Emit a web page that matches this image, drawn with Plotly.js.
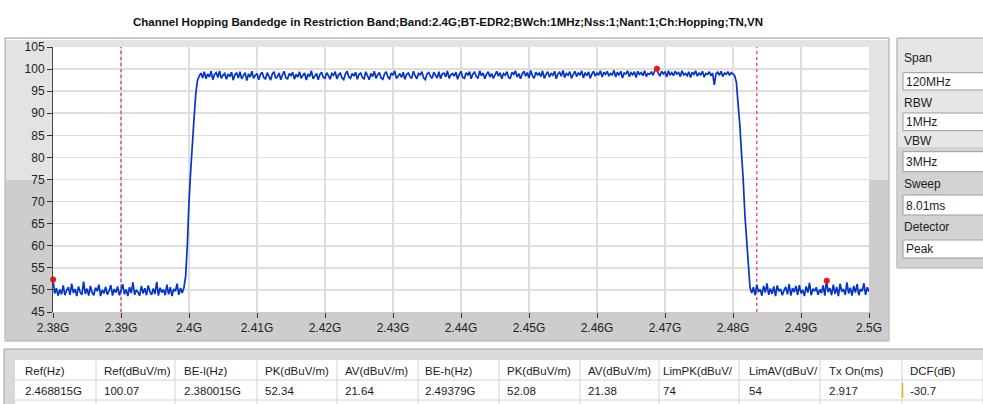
<!DOCTYPE html>
<html><head><meta charset="utf-8">
<script src="https://cdn.plot.ly/plotly-3.0.1.min.js"></script>
<style>html,body{margin:0;padding:0;background:#fff;overflow:hidden}#chart{width:983px;height:404px}</style>
</head><body><div id="chart"></div>
<script>
// ---------------- DATA ----------------
const chartTitle = "Channel Hopping Bandedge in Restriction Band;Band:2.4G;BT-EDR2;BWch:1MHz;Nss:1;Nant:1;Ch:Hopping;TN,VN";
const sweepStartGHz = 2.38;
const sweepStepGHz = 0.00025;
const traceLevels = [
 // lower floor 2.380 .. 2.399
 52.3, 49.2, 50.4, 48.7, 50.1, 49.0, 51.0, 48.8, 49.9, 50.6, 48.9, 51.4, 49.3, 50.2, 48.6, 50.8, 49.5, 48.9, 51.9, 49.1,
 50.3, 48.7, 50.9, 49.4, 48.8, 50.5, 49.7, 51.2, 48.6, 50.0, 49.2, 50.7, 48.9, 49.8, 51.1, 48.7, 50.2, 49.4, 50.8, 48.8,
 49.9, 51.3, 49.0, 50.1, 48.6, 50.6, 49.3, 51.7, 48.9, 50.0, 49.5, 48.7, 50.9, 49.2, 50.4, 48.8, 51.0, 49.6, 48.9, 50.3,
 49.1, 51.8, 48.7, 50.5, 49.4, 50.1, 48.8, 51.2, 49.0, 50.6, 48.6, 50.2, 49.7, 51.4, 48.9, 50.4, 49.3,
 // rising edge
 50.5, 53, 60, 70, 77, 83, 89, 94.5, 97.5,
 // in-band plateau
 98.4, 99.1, 98.0, 99.4, 97.8, 98.9, 98.2, 99.5, 97.6, 98.8, 99.2, 98.1, 99.6, 97.9, 98.6, 99.0, 97.7, 98.9, 98.3, 99.3,
 97.5, 98.7, 99.1, 98.0, 99.4, 97.8, 98.5, 99.2, 97.4, 98.9, 98.2, 99.5, 97.9, 98.6, 99.0, 97.6, 98.8, 99.3, 98.1, 97.7,
 99.2, 98.4, 97.5, 98.9, 99.4, 97.9, 98.3, 99.1, 97.6, 98.7, 99.5, 98.0, 97.8, 99.0, 98.5, 99.3, 97.7, 98.8, 98.2, 99.4,
 97.9, 98.6, 99.1, 97.5, 98.9, 98.3, 99.6, 97.8, 98.4, 99.0, 97.6, 98.8, 99.3, 98.1, 97.9, 99.2, 98.5, 97.7, 99.0, 98.6,
 99.4, 97.8, 98.7, 99.1, 98.0, 97.6, 98.9, 99.5, 98.2, 97.9, 99.0, 98.4, 99.3, 97.7, 98.8, 99.1, 98.1, 97.8, 99.4, 98.5,
 97.6, 99.0, 98.3, 99.5, 97.9, 98.7, 99.2, 98.0, 97.7, 98.9, 99.4, 98.2, 97.8, 99.1, 98.6, 99.6, 97.9, 98.4, 99.0, 98.1,
 99.3, 97.7, 98.8, 99.1, 98.3, 97.9, 99.5, 98.5, 97.8, 99.0, 98.7, 99.4, 98.0, 97.6, 98.9, 99.2, 98.4, 97.9, 99.3, 98.6,
 98.0, 99.4, 97.8, 98.9, 99.1, 98.2, 99.6, 97.9, 98.7, 99.0, 98.4, 99.3, 97.7, 98.8, 99.5, 98.1, 97.9, 99.2, 98.6, 99.4,
 97.8, 98.9, 99.3, 98.3, 97.9, 99.6, 98.5, 99.1, 97.8, 98.8, 99.4, 98.2, 99.0, 97.9, 98.7, 99.5, 98.4, 99.2, 97.8, 99.0,
 98.6, 99.4, 98.1, 97.9, 99.3, 98.8, 99.6, 98.2, 99.0, 97.8, 98.9, 99.5, 98.4, 99.2, 98.0, 99.7, 98.5, 97.9, 99.3, 98.7,
 99.1, 98.3, 99.6, 97.9, 98.8, 99.4, 98.2, 99.0, 98.6, 99.5, 97.8, 98.9, 99.3, 98.4, 99.7, 98.1, 99.0, 98.6, 99.4, 97.9,
 98.8, 99.5, 98.3, 99.1, 98.7, 99.6, 98.0, 99.2, 98.5, 99.4, 97.9, 98.9, 99.5, 98.4, 99.1, 98.7, 99.6, 98.2, 99.3, 98.8,
 99.5, 98.4, 99.0, 98.7, 99.7, 98.2, 99.3, 98.6, 99.5, 98.0, 99.1, 98.9, 99.6, 98.3, 99.2, 98.7, 99.4, 98.1, 99.5, 98.8,
 99.2, 98.5, 99.6, 98.3, 99.0, 98.8, 99.4, 98.6, 99.7, 100.0, 99.1, 98.4, 99.5, 98.9, 99.3, 98.2, 99.6, 98.7, 99.2, 98.5,
 99.5, 98.9, 99.2, 98.3, 99.6, 98.7, 99.0, 98.5, 99.4, 98.1, 99.3, 98.8, 99.6, 98.4, 99.1, 98.7, 99.5, 98.2, 99.0, 98.8,
 99.4, 98.5, 99.1, 96.4, 98.9, 99.3, 98.6, 99.5, 98.3, 99.1, 98.8, 99.4, 98.6, 99.2, 98.9, 98.5,
 // falling edge
 97, 92, 87.5, 81, 75, 67, 61.5, 56, 50.5,
 // upper floor 2.4828 .. 2.5
 49.3, 50.6, 48.8, 51.2, 49.6, 50.1, 48.7, 50.9, 49.4, 51.5, 48.9, 50.3, 49.1, 50.8, 48.6, 51.0, 49.7, 50.2, 48.8, 49.9,
 50.7, 49.0, 51.3, 48.7, 50.4, 49.5, 50.9, 48.9, 51.1, 49.2, 50.0, 48.6, 50.8, 49.4, 51.6, 48.8, 50.3, 49.7, 50.6, 48.9,
 50.1, 49.3, 51.0, 48.7, 52.0, 49.5, 50.4, 48.8, 51.2, 49.1, 50.7, 48.6, 51.4, 49.6, 50.2, 48.9, 51.7, 49.2, 50.5, 48.7,
 50.9, 49.4, 51.3, 48.8, 50.2, 49.7, 51.5, 48.9, 50.6, 49.6
];
const markerFreqGHz = [2.380015, 2.468815, 2.49379];
const markerLevels = [52.34, 100.07, 52.08];
const limitFreqGHz = [2.39, 2.4835];
const yRange = [45, 105];
const xRange = [2.38, 2.5];
const xTickVals = [2.38, 2.39, 2.40, 2.41, 2.42, 2.43, 2.44, 2.45, 2.46, 2.47, 2.48, 2.49, 2.50];
const xTickText = ["2.38G", "2.39G", "2.4G", "2.41G", "2.42G", "2.43G", "2.44G", "2.45G", "2.46G", "2.47G", "2.48G", "2.49G", "2.5G"];
const yTickVals = [45, 50, 55, 60, 65, 70, 75, 80, 85, 90, 95, 100, 105];
const settingLabels = ["Span", "RBW", "VBW", "Sweep", "Detector"];
const settingValues = ["120MHz", "1MHz", "3MHz", "8.01ms", "Peak"];
const tableHeaders = ["Ref(Hz)", "Ref(dBuV/m)", "BE-l(Hz)", "PK(dBuV/m)", "AV(dBuV/m)", "BE-h(Hz)", "PK(dBuV/m)", "AV(dBuV/m)", "LimPK(dBuV/", "LimAV(dBuV/", "Tx On(ms)", "DCF(dB)"];
const tableValues = ["2.468815G", "100.07", "2.380015G", "52.34", "21.64", "2.49379G", "52.08", "21.38", "74", "54", "2.917", "-30.7"];

// ---------------- LAYOUT HELPERS ----------------
const W = 983, H = 404;
const L = 53, R = 869, T = 47, B = 312;
const px = x => (x - L) / (R - L);
const py = y => (B - y) / (B - T);

const traceFreq = traceLevels.map((_, i) => sweepStartGHz + i * sweepStepGHz);

const traces = [];
limitFreqGHz.forEach(f => traces.push({
  x: [f, f], y: yRange, mode: 'lines', hoverinfo: 'skip',
  line: {color: '#e3288a', width: 1.2, dash: '3px,3px'}
}));
traces.push({
  x: traceFreq, y: traceLevels, mode: 'lines',
  line: {color: '#0534c8', width: 1.7, simplify: false}
});
traces.push({
  x: markerFreqGHz, y: markerLevels, mode: 'markers', cliponaxis: false,
  marker: {color: '#ff1010', size: 6}
});

const shapes = [];
const rect = (x0, y0, x1, y1, fill, line, lw) => shapes.push({
  type: 'rect', xref: 'paper', yref: 'paper', layer: 'below',
  x0: px(x0), x1: px(x1), y0: py(y1), y1: py(y0),
  fillcolor: fill, line: {color: line || fill, width: lw === undefined ? 1 : lw}
});
const hline = (x0, x1, y, c, w) => shapes.push({type: 'line', xref: 'paper', yref: 'paper', layer: 'below',
  x0: px(x0), x1: px(x1), y0: py(y), y1: py(y), line: {color: c, width: w || 1}});
const vline = (x, y0, y1, c, w) => shapes.push({type: 'line', xref: 'paper', yref: 'paper', layer: 'below',
  x0: px(x), x1: px(x), y0: py(y0), y1: py(y1), line: {color: c, width: w || 1}});

// graph panel
rect(5, 38, 889, 341, '#e3e3e3', '#a3a3a3', 1);
rect(6, 180, 888, 340, '#cdcdcd', '#cdcdcd', 0);
hline(6, 888, 39.5, '#ffffff', 1);
rect(L, T, R, B, '#ffffff', '#ffffff', 0);

// right settings panel
rect(897, 38, 992, 268, '#e6e6e6', '#a3a3a3', 1);
rect(898, 147, 991, 267, '#d3d3d3', '#d3d3d3', 0);
const boxY = [[72.7, 90], [113, 130.7], [151.7, 171.7], [195, 215], [240, 258]];
const labelY = [58.3, 103.3, 141, 184, 226.7];
boxY.forEach(b => rect(903, b[0], 995, b[1], '#ffffff', '#9c9c9c', 1));

// table panel
rect(4, 349, 995, 412, '#d9d9d9', '#a3a3a3', 1);
rect(15, 360, 995, 412, '#ffffff', '#ffffff', 0);
const colX = [15, 96, 175, 257, 337, 418, 499, 580, 659, 739, 820, 902, 983];
hline(15, 983, 380, '#d4d4d4', 1);
hline(15, 983, 400, '#d4d4d4', 1);
colX.slice(1).forEach(x => vline(x, 360, 404, '#d4d4d4', 1));
vline(902.5, 383, 398, '#f0b400', 1.5);

const annotations = [];
const txt = (x, y, s, size) => annotations.push({
  xref: 'paper', yref: 'paper', x: px(x), y: py(y), xanchor: 'left', yanchor: 'middle',
  text: s, showarrow: false, font: {family: 'Liberation Sans, Arial, sans-serif', size: size, color: '#1c1c1c'}
});
settingLabels.forEach((s, i) => txt(902, labelY[i], s, 12));
settingValues.forEach((s, i) => txt(904, (boxY[i][0] + boxY[i][1]) / 2 + 0.5, s, 12));
const colTextX = [23, 101.5, 181.5, 263, 343, 423, 505, 586, 660.5, 746.5, 826.5, 907.5];
tableHeaders.forEach((s, i) => txt(colTextX[i], 371, s, 11.5));
tableValues.forEach((s, i) => txt(colTextX[i], 390.5, s, 11.5));

const layout = {
  width: W, height: H,
  margin: {l: L, r: W - R, t: T, b: H - B, pad: 0},
  paper_bgcolor: '#ffffff', plot_bgcolor: 'rgba(0,0,0,0)',
  showlegend: false,
  title: {
    text: '<b>' + chartTitle + '</b>', xref: 'container', yref: 'container',
    x: 448 / W, xanchor: 'center', y: 1 - 22 / H, yanchor: 'middle',
    font: {family: 'Liberation Sans, Arial, sans-serif', size: 11.5, color: '#111'}
  },
  xaxis: {
    range: xRange, tickvals: xTickVals, ticktext: xTickText,
    showgrid: true, gridcolor: '#dedede', gridwidth: 1.6, zeroline: false, showline: false,
    ticks: 'outside', ticklen: 5, tickwidth: 1, tickcolor: '#333',
    tickfont: {family: 'Liberation Sans, Arial, sans-serif', size: 12, color: '#222'}
  },
  yaxis: {
    range: yRange, tickvals: yTickVals,
    showgrid: true, gridcolor: '#dedede', gridwidth: 1.6, zeroline: false,
    showline: true, linecolor: '#444', linewidth: 1,
    ticks: 'outside', ticklen: 5, tickwidth: 1, tickcolor: '#333',
    tickfont: {family: 'Liberation Sans, Arial, sans-serif', size: 12, color: '#222'}
  },
  shapes: shapes, annotations: annotations
};

Plotly.newPlot('chart', traces, layout, {displayModeBar: false, staticPlot: true});
</script></body></html>
